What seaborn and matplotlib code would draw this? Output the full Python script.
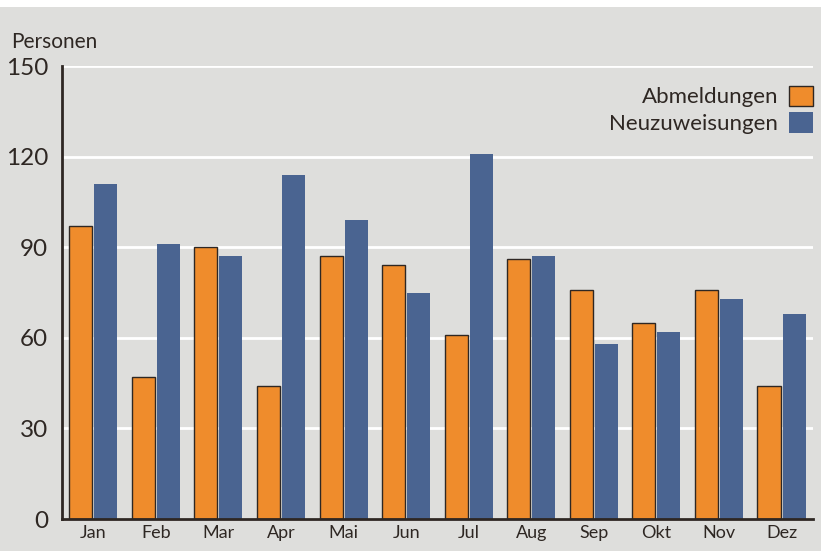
import pandas as pd
import seaborn as sns
import matplotlib.pyplot as plt
from matplotlib.patches import Patch, Rectangle

# Data
months = ['Jan', 'Feb', 'Mar', 'Apr', 'Mai', 'Jun', 'Jul', 'Aug', 'Sep', 'Okt', 'Nov', 'Dez']
abmeldungen = [97, 47, 90, 44, 87, 84, 61, 86, 76, 65, 76, 44]
neuzuweisungen = [111, 91, 87, 114, 99, 75, 121, 87, 58, 62, 73, 68]
series = ['Abmeldungen', 'Neuzuweisungen']
yticks = [0, 30, 60, 90, 120, 150]

bg = '#dededc'
orange = '#ef8c2c'
blue = '#4a6491'
dark = '#2e2723'

df = pd.DataFrame({'Monat': months * 2,
                   'Serie': [series[0]] * 12 + [series[1]] * 12,
                   'Personen': abmeldungen + neuzuweisungen})

sns.set_style('white')
plt.rcParams['font.family'] = ['Lato', 'DejaVu Sans']

fig = plt.figure(figsize=(8.21, 5.51), dpi=100, facecolor=bg)
fig.patches.append(Rectangle((0, 0.987), 1, 0.013, transform=fig.transFigure,
                             facecolor='white', edgecolor='none'))
ax = fig.add_axes([0.0755, 0.058, 0.9145, 0.822])
ax.set_facecolor(bg)

sns.barplot(data=df, x='Monat', y='Personen', hue='Serie', order=months,
            hue_order=series, palette=[orange, blue], width=0.8, gap=0.08,
            saturation=1, ax=ax, legend=False)

for bar in ax.containers[0]:
    bar.set_edgecolor(dark)
    bar.set_linewidth(1.0)
for bar in ax.containers[1]:
    bar.set_edgecolor('none')

ax.set_ylim(0, 150)
ax.set_xlim(-0.5, 11.5)
ax.set_yticks(yticks)
ax.yaxis.grid(True, color='white', linewidth=2)
ax.set_axisbelow(True)

for s in ['top', 'right']:
    ax.spines[s].set_visible(False)
for s in ['left', 'bottom']:
    ax.spines[s].set_color(dark)
    ax.spines[s].set_linewidth(2)

ax.set_xlabel('')
ax.set_ylabel('')
ax.tick_params(axis='y', length=0, labelsize=17.5, labelcolor=dark, pad=10)
ax.tick_params(axis='x', which='major', length=0, labelsize=13, labelcolor=dark, pad=4)
ax.set_xticks([i + 0.5 for i in range(12)], minor=True)
ax.tick_params(axis='x', which='minor', length=11, width=2, color=dark, direction='inout')

fig.text(0.014, 0.905, 'Personen', fontsize=15, color=dark, ha='left', va='bottom')

handles = [Patch(facecolor=orange, edgecolor=dark, linewidth=1.0, label=series[0]),
           Patch(facecolor=blue, edgecolor='none', label=series[1])]
ax.legend(handles=handles, loc='upper right', bbox_to_anchor=(1.0, 0.957),
          frameon=False, markerfirst=False, fontsize=16, labelcolor=dark,
          borderaxespad=0, borderpad=0,
          handlelength=1.05, handleheight=1.05, labelspacing=0.2, handletextpad=0.5)

fig.savefig('out.png', dpi=100, facecolor=bg)
